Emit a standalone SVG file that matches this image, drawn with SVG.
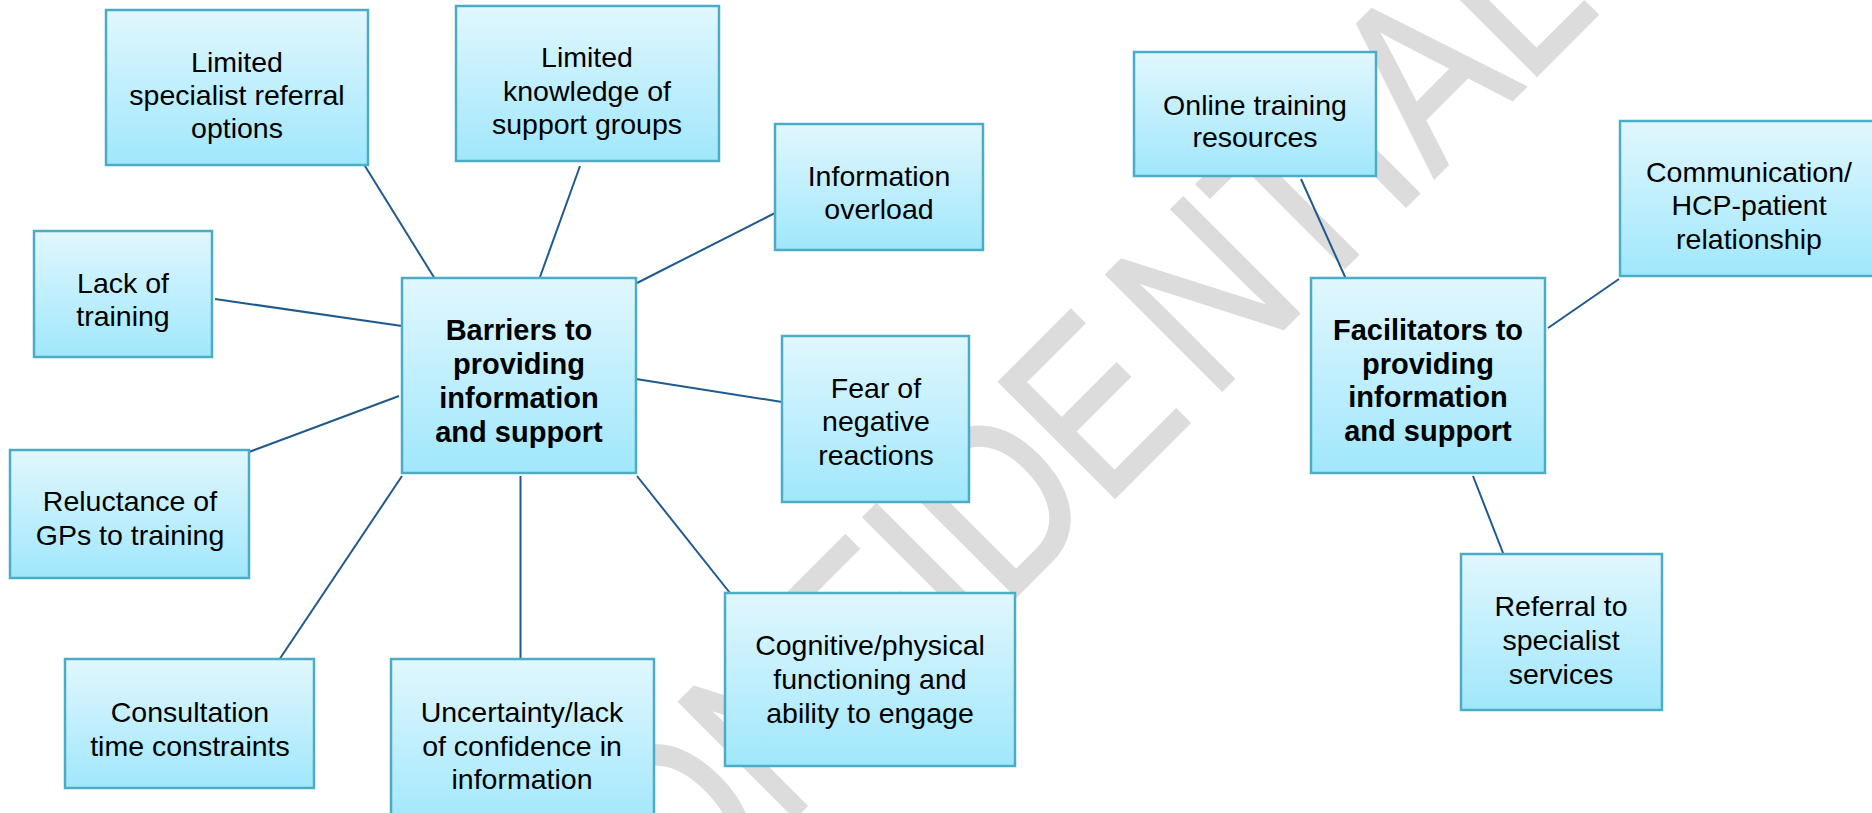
<svg xmlns="http://www.w3.org/2000/svg" width="1872" height="813" viewBox="0 0 1872 813">
  <defs>
    <linearGradient id="boxFill" x1="0" y1="0" x2="0" y2="1">
      <stop offset="0" stop-color="#E1F7FE"/>
      <stop offset="1" stop-color="#A0E7FC"/>
    </linearGradient>
    <style>
      .box { fill: url(#boxFill); stroke: #4BACC6; stroke-width: 2.5; }
      .lbl { font-family: "Liberation Sans", Arial, sans-serif; font-size: 28.5px; fill: #000; text-anchor: middle; }
      .hub { font-weight: bold; font-size: 29px; }
      .link { stroke: #1F5A8C; stroke-width: 2; fill: none; }
      .mark { font-family: "Liberation Sans", Arial, sans-serif; font-size: 237px; fill: #DCDCDC; stroke: #DCDCDC; stroke-width: 3; }
    </style>
  </defs>
  <rect width="1872" height="813" fill="#FFFFFF"/>

  <!-- background watermark, set on a 45 degree slant -->
  <text class="mark" transform="translate(806,806) rotate(-45) scale(0.82,1)" x="-394 -223 -39 132 277 343 513 698 868 1013 1083 1241" y="0">CONFIDENTIAL</text>

  <!-- connectors -->
  <g id="connectors">
    <line class="link" x1="365" y1="166" x2="435" y2="279"/>
    <line class="link" x1="580" y1="166" x2="540" y2="277"/>
    <line class="link" x1="637" y1="283" x2="775" y2="213"/>
    <line class="link" x1="215" y1="299" x2="402" y2="326"/>
    <line class="link" x1="636" y1="379" x2="782" y2="402"/>
    <line class="link" x1="249" y1="452" x2="399" y2="396"/>
    <line class="link" x1="402" y1="476" x2="277" y2="663"/>
    <line class="link" x1="520.5" y1="476" x2="520.5" y2="663"/>
    <line class="link" x1="637" y1="476" x2="730" y2="593"/>
    <line class="link" x1="1301" y1="179" x2="1346" y2="279"/>
    <line class="link" x1="1548" y1="328" x2="1619" y2="279"/>
    <line class="link" x1="1473" y1="476" x2="1505" y2="558"/>
  </g>

  <!-- barriers cluster -->
  <g id="barriers">
    <rect class="box" x="402" y="278" width="234" height="195"/>
    <text class="lbl hub" x="519"><tspan x="519" y="340">Barriers to</tspan><tspan x="519" y="374">providing</tspan><tspan x="519" y="408">information</tspan><tspan x="519" y="442">and support</tspan></text>
  </g>
  <g id="limited-referral">
    <rect class="box" x="106" y="10" width="262" height="155"/>
    <text class="lbl"><tspan x="237" y="72">Limited</tspan><tspan x="237" y="105">specialist referral</tspan><tspan x="237" y="138">options</tspan></text>
  </g>
  <g id="limited-knowledge">
    <rect class="box" x="456" y="6" width="263" height="155"/>
    <text class="lbl"><tspan x="587" y="67">Limited</tspan><tspan x="587" y="101">knowledge of</tspan><tspan x="587" y="134">support groups</tspan></text>
  </g>
  <g id="info-overload">
    <rect class="box" x="775" y="124" width="208" height="126"/>
    <text class="lbl"><tspan x="879" y="186">Information</tspan><tspan x="879" y="219">overload</tspan></text>
  </g>
  <g id="lack-training">
    <rect class="box" x="34" y="231" width="178" height="126"/>
    <text class="lbl"><tspan x="123" y="293">Lack of</tspan><tspan x="123" y="326">training</tspan></text>
  </g>
  <g id="fear">
    <rect class="box" x="782" y="336" width="187" height="166"/>
    <text class="lbl"><tspan x="876" y="398">Fear of</tspan><tspan x="876" y="431">negative</tspan><tspan x="876" y="465">reactions</tspan></text>
  </g>
  <g id="reluctance">
    <rect class="box" x="10" y="450" width="239" height="128"/>
    <text class="lbl"><tspan x="130" y="511">Reluctance of</tspan><tspan x="130" y="545">GPs to training</tspan></text>
  </g>
  <g id="consultation">
    <rect class="box" x="65" y="659" width="249" height="129"/>
    <text class="lbl"><tspan x="190" y="722">Consultation</tspan><tspan x="190" y="756">time constraints</tspan></text>
  </g>
  <g id="uncertainty">
    <rect class="box" x="391" y="659" width="263" height="170"/>
    <text class="lbl"><tspan x="522" y="722">Uncertainty/lack</tspan><tspan x="522" y="756">of confidence in</tspan><tspan x="522" y="789">information</tspan></text>
  </g>
  <g id="cognitive">
    <rect class="box" x="725" y="593" width="290" height="173"/>
    <text class="lbl"><tspan x="870" y="655">Cognitive/physical</tspan><tspan x="870" y="689">functioning and</tspan><tspan x="870" y="723">ability to engage</tspan></text>
  </g>

  <!-- facilitators cluster -->
  <g id="facilitators">
    <rect class="box" x="1311" y="278" width="234" height="195"/>
    <text class="lbl hub"><tspan x="1428" y="340">Facilitators to</tspan><tspan x="1428" y="374">providing</tspan><tspan x="1428" y="407">information</tspan><tspan x="1428" y="441">and support</tspan></text>
  </g>
  <g id="online-training">
    <rect class="box" x="1134" y="52" width="242" height="124"/>
    <text class="lbl"><tspan x="1255" y="115">Online training</tspan><tspan x="1255" y="147">resources</tspan></text>
  </g>
  <g id="communication">
    <rect class="box" x="1620" y="121" width="258" height="155"/>
    <text class="lbl"><tspan x="1749" y="182">Communication/</tspan><tspan x="1749" y="215">HCP-patient</tspan><tspan x="1749" y="249">relationship</tspan></text>
  </g>
  <g id="referral">
    <rect class="box" x="1461" y="554" width="201" height="156"/>
    <text class="lbl"><tspan x="1561" y="616">Referral to</tspan><tspan x="1561" y="650">specialist</tspan><tspan x="1561" y="684">services</tspan></text>
  </g>
</svg>
